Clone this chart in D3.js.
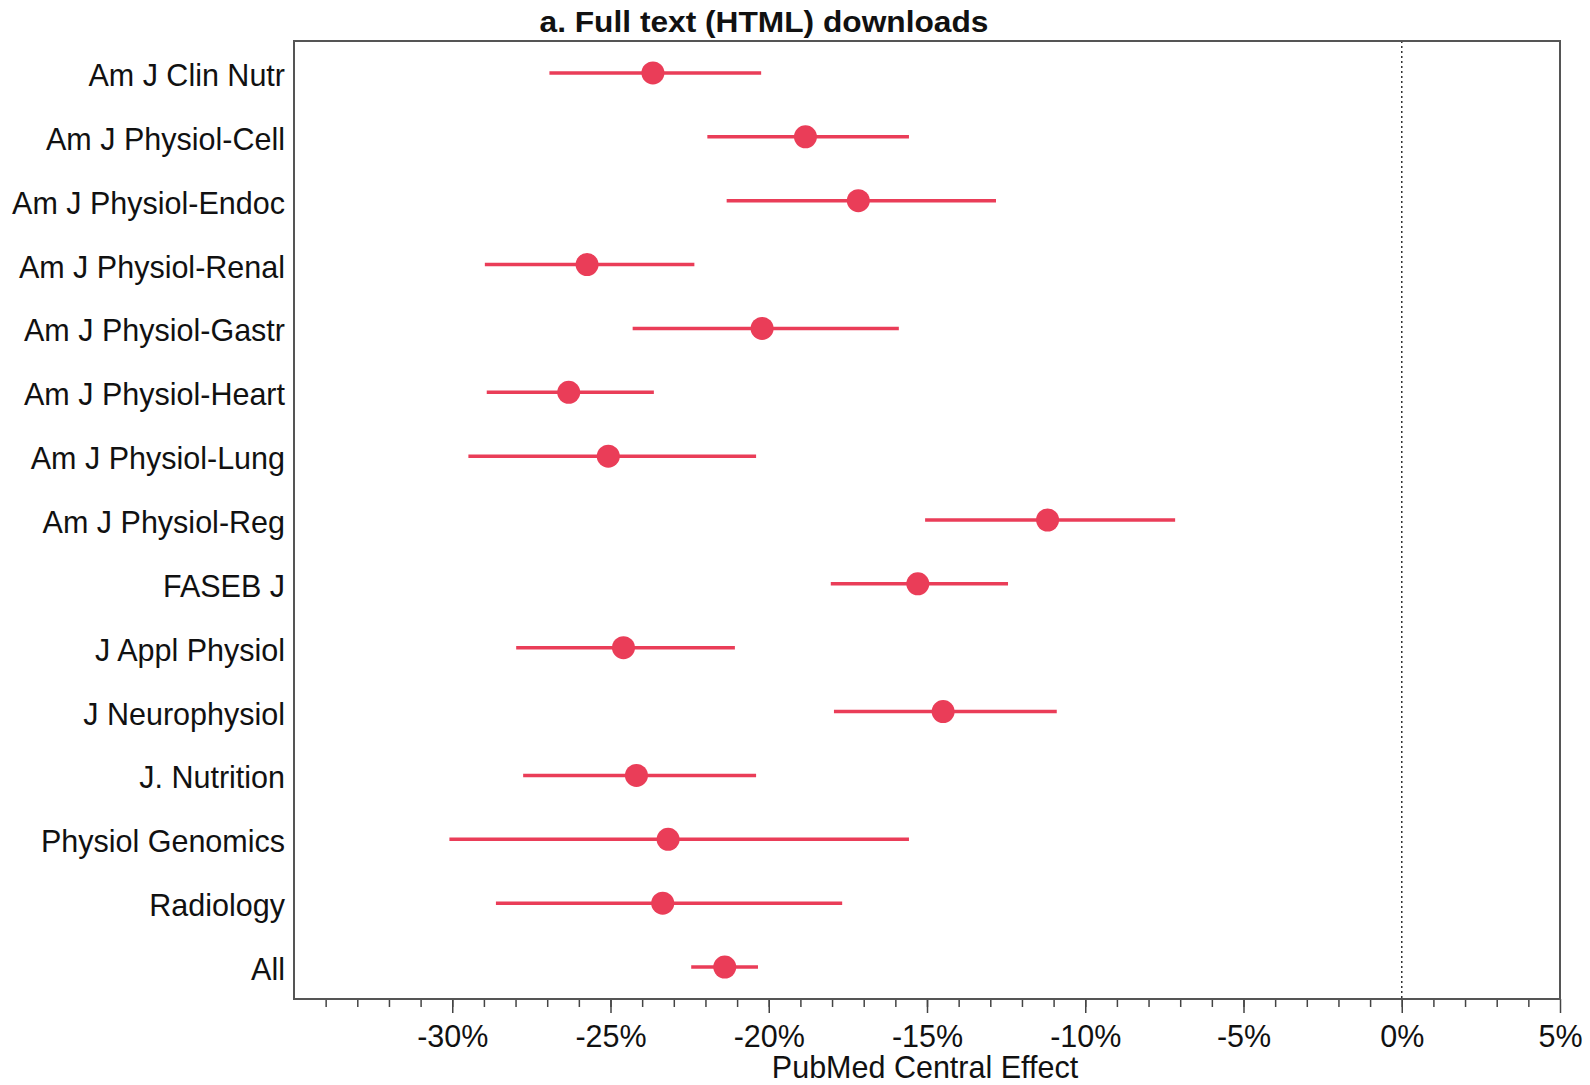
<!DOCTYPE html>
<html>
<head>
<meta charset="utf-8">
<script src="https://cdn.jsdelivr.net/npm/d3@7"></script>
<style>
  body { margin: 0; background: #fff; }
  text { font-family: "Liberation Sans", Arial, sans-serif; fill: #111; }
</style>
</head>
<body>
<svg id="chart" width="1590" height="1085"></svg>
<script>
const journals = ['Am J Clin Nutr', 'Am J Physiol-Cell', 'Am J Physiol-Endoc', 'Am J Physiol-Renal',
  'Am J Physiol-Gastr', 'Am J Physiol-Heart', 'Am J Physiol-Lung', 'Am J Physiol-Reg', 'FASEB J',
  'J Appl Physiol', 'J Neurophysiol', 'J. Nutrition', 'Physiol Genomics', 'Radiology', 'All'];
const effect = [-23.66, -18.84, -17.17, -25.74, -20.21, -26.32, -25.07, -11.19, -15.29,
  -24.59, -14.49, -24.18, -23.18, -23.35, -21.39];
const lower = [-26.93, -21.94, -21.33, -28.97, -24.30, -28.91, -29.49, -15.06, -18.04,
  -27.98, -17.94, -27.76, -30.09, -28.62, -22.45];
const upper = [-20.24, -15.57, -12.82, -22.35, -15.89, -23.63, -20.40, -7.16, -12.44,
  -21.07, -10.90, -20.40, -15.57, -17.68, -20.34];
const xTicks = [-30, -25, -20, -15, -10, -5, 0, 5];

const rows = journals.map((j, i) => ({ name: j, eff: effect[i], lo: lower[i], hi: upper[i] }));

const plotL = 294, plotR = 1560, plotT = 41, plotB = 999;
const RED = '#ea3d58';
const FONT = '"Liberation Sans", Arial, sans-serif';

const svg = d3.select('#chart');

const x = d3.scaleLinear().domain([-35, 5]).range([plotL, plotR]);
const y = d3.scalePoint().domain(journals).range([plotT, plotB]).padding(0.5);

// zero reference line
svg.append('line')
  .attr('x1', x(0)).attr('x2', x(0))
  .attr('y1', plotT).attr('y2', plotB)
  .style('stroke', '#333').style('stroke-width', 1.5)
  .style('stroke-dasharray', '2,3');

// minor ticks every 1%
svg.append('g')
  .attr('transform', `translate(0,${plotB})`)
  .call(d3.axisBottom(x).tickValues(d3.range(-34, 5, 1)).tickSize(8).tickFormat(''))
  .call(g => g.select('.domain').remove())
  .call(g => g.selectAll('line').style('stroke', '#444').style('stroke-width', 1.5));

// major ticks
svg.append('g')
  .attr('transform', `translate(0,${plotB})`)
  .call(d3.axisBottom(x).tickValues(xTicks).tickSize(14).tickPadding(12).tickFormat(d => d + '%'))
  .call(g => g.select('.domain').remove())
  .call(g => g.selectAll('line').style('stroke', '#444').style('stroke-width', 1.5))
  .call(g => g.selectAll('text').style('font-size', '30.5px').style('font-family', FONT).style('fill', '#111'));

// frame
svg.append('rect')
  .attr('x', plotL).attr('y', plotT)
  .attr('width', plotR - plotL).attr('height', plotB - plotT)
  .style('fill', 'none').style('stroke', '#555').style('stroke-width', 2);

// y labels
svg.append('g').selectAll('text').data(rows).enter().append('text')
  .attr('x', plotL - 9)
  .attr('y', d => y(d.name) + 2)
  .attr('dy', '0.36em')
  .attr('text-anchor', 'end')
  .style('font-size', '30.5px')
  .text(d => d.name);

// intervals
const marks = svg.append('g');
marks.selectAll('line').data(rows).enter().append('line')
  .attr('x1', d => x(d.lo)).attr('x2', d => x(d.hi))
  .attr('y1', d => y(d.name)).attr('y2', d => y(d.name))
  .style('stroke', RED).style('stroke-width', 3.5);

marks.selectAll('circle').data(rows).enter().append('circle')
  .attr('cx', d => x(d.eff)).attr('cy', d => y(d.name))
  .attr('r', 11.5)
  .attr('fill', RED);

// title
svg.append('text')
  .attr('x', 764).attr('y', 32)
  .attr('text-anchor', 'middle')
  .attr('textLength', 449)
  .attr('lengthAdjust', 'spacingAndGlyphs')
  .style('font-size', '29px').style('font-weight', 'bold')
  .text('a. Full text (HTML) downloads');

// x axis title
svg.append('text')
  .attr('x', 925).attr('y', 1078)
  .attr('text-anchor', 'middle')
  .style('font-size', '30.5px')
  .text('PubMed Central Effect');
</script>
</body>
</html>
